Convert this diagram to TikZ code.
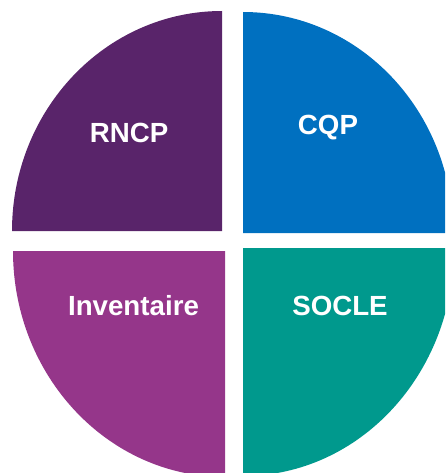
\documentclass[tikz,border=0pt]{standalone}
\usepackage{fontspec}
\setmainfont{Liberation Sans}
\definecolor{rncpcol}{HTML}{59246A}
\definecolor{cqpcol}{HTML}{0070C0}
\definecolor{invcol}{HTML}{95368A}
\definecolor{soclecol}{HTML}{00998D}
\begin{document}
\begin{tikzpicture}[x=1pt,y=-1pt,
  label/.style={text=white,font=\fontsize{27.7}{30}\selectfont\bfseries,anchor=base,inner sep=0pt}]
\useasboundingbox (0,0) rectangle (445,473);
\clip (0,0) rectangle (445,473);
% slices
\fill[rncpcol] (222,231) -- (12,231) arc[start angle=180,end angle=270,x radius=210,y radius=220] -- cycle;
\fill[cqpcol] (243,233) -- (243,12) arc[start angle=270,end angle=360,x radius=210,y radius=221] -- cycle;
\fill[invcol] (225,251) -- (13,251) arc[start angle=180,end angle=90,x radius=212,y radius=226] -- cycle;
\fill[soclecol] (243,248) -- (454,248) arc[start angle=0,end angle=90,x radius=211,y radius=228] -- cycle;
% labels
\node[label] (rncp) at (129,142.5) {RNCP};
\node[label] (cqp) at (328,135) {CQP};
\node[label] (inv) at (133.5,315) {Inventaire};
\node[label] (socle) at (340,315.5) {SOCLE};
\end{tikzpicture}
\end{document}
